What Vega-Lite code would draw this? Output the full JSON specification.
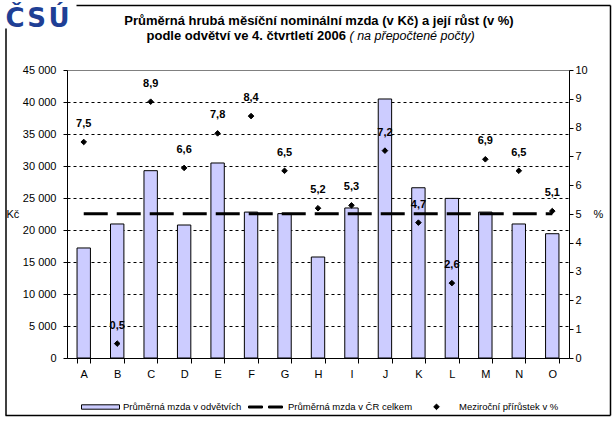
{
  "$schema": "https://vega.github.io/schema/vega-lite/v6.json",
  "width": 502,
  "height": 288,
  "autosize": "none",
  "padding": {"left": 67, "top": 70, "right": 47, "bottom": 63},
  "background": "white",
  "config": {
    "locale": {"number": {"decimal": ",", "thousands": "\u00a0", "grouping": [3], "currency": ["", "\u00a0Kč"]}},
    "view": {"stroke": "#808080", "strokeWidth": 1},
    "font": "Liberation Sans",
    "axis": {"domainColor": "black", "tickColor": "black", "labelColor": "black", "titleColor": "black", "labelFont": "Liberation Sans", "labelFontSize": 11, "titleFont": "Liberation Sans", "titleFontSize": 11, "titleFontWeight": "normal"}
  },
  "title": {
    "text": "Průměrná hrubá měsíční nominální mzda (v Kč) a její růst (v %)",
    "anchor": "middle",
    "frame": "group",
    "dx": 1,
    "dy": 23,
    "font": "Liberation Sans",
    "fontSize": 13,
    "fontWeight": "bold",
    "offset": 0,
    "color": "black"
  },
  "data": {
    "values": [
      {"k": "A", "mzda": 17190, "pct": 7.5},
      {"k": "B", "mzda": 20940, "pct": 0.5},
      {"k": "C", "mzda": 29270, "pct": 8.9},
      {"k": "D", "mzda": 20780, "pct": 6.6},
      {"k": "E", "mzda": 30470, "pct": 7.8},
      {"k": "F", "mzda": 22800, "pct": 8.4},
      {"k": "G", "mzda": 22560, "pct": 6.5},
      {"k": "H", "mzda": 15780, "pct": 5.2},
      {"k": "I", "mzda": 23440, "pct": 5.3},
      {"k": "J", "mzda": 40470, "pct": 7.2},
      {"k": "K", "mzda": 26600, "pct": 4.7},
      {"k": "L", "mzda": 24940, "pct": 2.6},
      {"k": "M", "mzda": 22800, "pct": 6.9},
      {"k": "N", "mzda": 20940, "pct": 6.5},
      {"k": "O", "mzda": 19420, "pct": 5.1}
    ]
  },
  "layer": [
    {
      "mark": {"type": "point", "opacity": 0},
      "encoding": {
        "x": {"datum": 0, "type": "quantitative", "scale": {"domain": [0, 1], "range": [-62, 543]},
          "axis": {"orient": "bottom", "offset": 57, "labels": false, "ticks": false, "grid": false, "title": null, "domainColor": "black", "domainWidth": 1.5}},
        "y": {"datum": 0, "type": "quantitative", "scale": {"domain": [0, 1], "range": [345, -42]},
          "axis": {"orient": "left", "offset": 61.5, "labels": false, "ticks": false, "grid": false, "title": null, "domainColor": "black", "domainWidth": 1.5}}
      }
    },
    {
      "mark": {"type": "point", "opacity": 0},
      "encoding": {
        "x": {"datum": 0, "type": "quantitative", "scale": {"domain": [0, 1], "range": [9, 543]},
          "axis": {"orient": "top", "offset": 65, "labels": false, "ticks": false, "grid": false, "domainColor": "black", "domainWidth": 1.5,
            "title": "( na přepočtené počty)", "titleFont": "Liberation Sans", "titleFontSize": 12.5, "titleFontStyle": "italic", "titleFontWeight": "normal",
            "titleX": 282, "titleY": 30, "titleAlign": "left", "titleBaseline": "middle"}},
        "y": {"datum": 0, "type": "quantitative", "scale": {"domain": [0, 1], "range": [345, -65]},
          "axis": {"orient": "right", "offset": 41, "labels": false, "ticks": false, "grid": false, "title": null, "domainColor": "black", "domainWidth": 1.5}}
      }
    },
    {
      "mark": {"type": "bar", "fill": "#ccccff", "stroke": "black", "strokeWidth": 1},
      "encoding": {
        "x": {
          "field": "k", "type": "nominal",
          "scale": {"paddingInner": 0.6, "paddingOuter": 0.3},
          "axis": {
            "orient": "bottom", "labelAngle": 0, "tickBand": "extent", "tickSize": 5, "labelPadding": 5,
            "title": "Č\u200aS\u200aÚ", "titleFont": "DejaVu Sans", "titleFontSize": 26, "titleFontWeight": "bold",
            "titleColor": "#1f3f95", "titleX": -62, "titleY": -332, "titleAlign": "left", "titleBaseline": "alphabetic"
          }
        },
        "y": {
          "field": "mzda", "type": "quantitative",
          "scale": {"domain": [0, 45000]},
          "axis": {
            "orient": "left", "values": [0, 5000, 10000, 15000, 20000, 25000, 30000, 35000, 40000, 45000],
            "format": ",d", "tickSize": 4, "labelPadding": 7,
            "grid": true, "gridColor": "black", "gridDash": [3, 3], "gridWidth": 1,
            "gridOpacity": {"condition": {"test": "datum.value === 45000 || datum.value === 0", "value": 0}, "value": 1},
            "title": "Kč", "titleAngle": 0, "titleX": -61, "titleY": 144, "titleAlign": "left", "titleBaseline": "middle"
          }
        }
      }
    },
    {
      "mark": {"type": "line", "color": "black", "strokeWidth": 3, "strokeDash": [24, 9]},
      "encoding": {
        "x": {"field": "k", "type": "nominal", "axis": null},
        "y": {"datum": 22520, "type": "quantitative", "scale": {"domain": [0, 45000]}, "axis": null}
      }
    },
    {
      "mark": {"type": "point", "filled": true, "size": 1600, "stroke": "black", "strokeWidth": 1, "opacity": 1},
      "encoding": {
        "x": {
          "field": "k", "type": "nominal",
          "axis": {
            "orient": "top", "labels": false, "ticks": false, "domain": false, "grid": false,
            "title": "podle odvětví ve 4. čtvrtletí 2006", "titleFont": "Liberation Sans",
            "titleFontSize": 13, "titleFontWeight": "bold",
            "titleX": 79, "titleY": -35, "titleAlign": "left", "titleBaseline": "middle"
          }
        },
        "y": {
          "field": "pct", "type": "quantitative",
          "scale": {"domain": [0, 10]},
          "axis": {
            "orient": "right", "values": [0, 1, 2, 3, 4, 5, 6, 7, 8, 9, 10], "format": "d", "tickSize": 4, "labelPadding": 2, "grid": false,
            "title": "%", "titleAngle": 0, "titleX": 24, "titleY": 144, "titleAlign": "left", "titleBaseline": "middle"
          }
        },
        "shape": {
          "datum": "Meziroční přírůstek v %",
          "scale": {
            "domain": ["Průměrná mzda v odvětvích", "Průměrná mzda v ČR celkem", "Meziroční přírůstek v %"],
            "range": [
              "M-0.95,-0.11H0.95V0.11H-0.95Z",
              "M-0.85,-0.05H-0.15V0.05H-0.85Z M0.15,-0.05H0.85V0.05H0.15Z",
              "M0,-0.14L0.14,0L0,0.14L-0.14,0Z"
            ]
          },
          "legend": {
            "orient": "none", "legendX": 13, "legendY": 316, "direction": "horizontal", "title": null,
            "labelFont": "Liberation Sans", "labelFontSize": 9.5, "labelColor": "black",
            "symbolSize": 1600, "symbolStrokeColor": "black", "symbolStrokeWidth": 1,
            "labelOffset": 2, "columnPadding": 3, "padding": 0
          }
        },
        "color": {
          "datum": "Meziroční přírůstek v %",
          "scale": {
            "domain": ["Průměrná mzda v odvětvích", "Průměrná mzda v ČR celkem", "Meziroční přírůstek v %"],
            "range": ["#ccccff", "black", "black"]
          },
          "legend": {
            "orient": "none", "legendX": 13, "legendY": 316, "direction": "horizontal", "title": null,
            "labelFont": "Liberation Sans", "labelFontSize": 9.5, "labelColor": "black",
            "symbolSize": 1600, "symbolStrokeColor": "black", "symbolStrokeWidth": 1,
            "labelOffset": 2, "columnPadding": 3, "padding": 0
          }
        }
      }
    },
    {
      "mark": {"type": "text", "fontWeight": "bold", "fontSize": 11, "dy": -18, "baseline": "middle", "color": "black", "font": "Liberation Sans"},
      "encoding": {
        "x": {"field": "k", "type": "nominal", "axis": null},
        "y": {"field": "pct", "type": "quantitative", "scale": {"domain": [0, 10]}, "axis": null},
        "text": {"field": "pct", "type": "quantitative", "format": ".1f"}
      }
    }
  ],
  "resolve": {"scale": {"x": "independent", "y": "independent"}, "axis": {"x": "independent", "y": "independent"}}
}
